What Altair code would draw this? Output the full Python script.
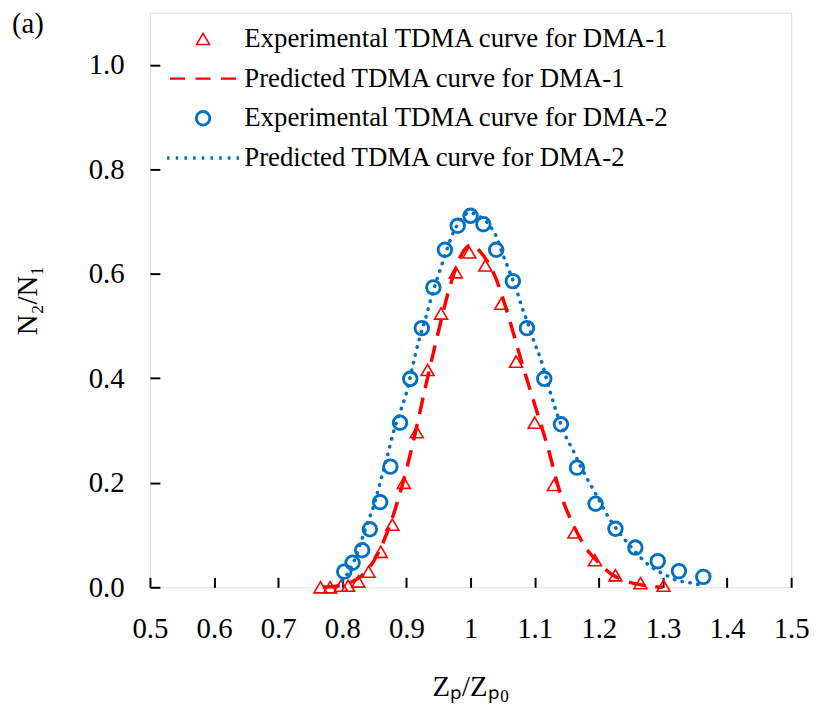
import altair as alt
import pandas as pd

S1E = "Experimental TDMA curve for DMA-1"
S1P = "Predicted TDMA curve for DMA-1"
S2E = "Experimental TDMA curve for DMA-2"
S2P = "Predicted TDMA curve for DMA-2"
series_order = [S1E, S1P, S2E, S2P]

exp1_x = [0.766, 0.781, 0.798, 0.809, 0.825, 0.841, 0.860, 0.878, 0.896, 0.916, 0.933, 0.954,
          0.977, 0.998, 1.023, 1.048, 1.071, 1.100, 1.130, 1.162, 1.194, 1.226, 1.265, 1.301]
exp1_y = [0.0, 0.0, 0.003, 0.003, 0.011, 0.030, 0.068, 0.120, 0.200, 0.297, 0.416, 0.524,
          0.603, 0.641, 0.616, 0.543, 0.432, 0.315, 0.196, 0.105, 0.052, 0.023, 0.008, 0.003]

pred1_x = [0.77, 0.79, 0.81, 0.83, 0.85, 0.87, 0.89, 0.91, 0.93, 0.95, 0.97, 0.99, 1.00,
           1.02, 1.04, 1.06, 1.08, 1.10, 1.12, 1.14, 1.16, 1.18, 1.20, 1.22, 1.24, 1.26, 1.28, 1.30]
pred1_y = [0.0, 0.002, 0.008, 0.022, 0.052, 0.105, 0.18, 0.275, 0.385, 0.49, 0.585, 0.645, 0.655,
           0.635, 0.59, 0.515, 0.43, 0.35, 0.27, 0.18, 0.12, 0.075, 0.047, 0.025, 0.013, 0.006, 0.002, 0.0]

exp2_x = [0.803, 0.816, 0.831, 0.843, 0.859, 0.875, 0.890, 0.906, 0.924, 0.942, 0.960, 0.980, 1.000,
          1.020, 1.040, 1.066, 1.088, 1.115, 1.141, 1.166, 1.195, 1.226, 1.257, 1.292, 1.325, 1.363]
exp2_y = [0.030, 0.047, 0.071, 0.111, 0.163, 0.231, 0.315, 0.399, 0.496, 0.574, 0.646, 0.692, 0.711,
          0.695, 0.646, 0.586, 0.496, 0.399, 0.312, 0.229, 0.160, 0.112, 0.076, 0.050, 0.031, 0.020]

pred2_x = [0.80, 0.81, 0.82, 0.83, 0.84, 0.85, 0.86, 0.87, 0.88, 0.89, 0.90, 0.91, 0.92, 0.93, 0.94,
           0.95, 0.96, 0.97, 0.98, 0.99, 1.00, 1.01, 1.02, 1.03, 1.04, 1.05, 1.06, 1.07, 1.08, 1.09,
           1.10, 1.11, 1.12, 1.13, 1.14, 1.15, 1.16, 1.17, 1.18, 1.19, 1.20, 1.21, 1.22, 1.23, 1.24,
           1.25, 1.26, 1.27, 1.28, 1.29, 1.30, 1.31, 1.32, 1.33, 1.34, 1.35, 1.36]
pred2_y = [0.012, 0.03, 0.055, 0.09, 0.125, 0.16, 0.205, 0.25, 0.298, 0.335, 0.372, 0.425, 0.475, 0.515, 0.56,
           0.598, 0.635, 0.67, 0.695, 0.712, 0.717, 0.712, 0.705, 0.692, 0.672, 0.638, 0.607, 0.575, 0.537, 0.503,
           0.467, 0.435, 0.392, 0.35, 0.315, 0.285, 0.262, 0.235, 0.212, 0.19, 0.168, 0.145, 0.125, 0.108, 0.092,
           0.078, 0.064, 0.051, 0.041, 0.032, 0.026, 0.02, 0.014, 0.011, 0.009, 0.007, 0.004]

x_ticks = [0.5, 0.6, 0.7, 0.8, 0.9, 1.0, 1.1, 1.2, 1.3, 1.4, 1.5]
y_ticks = [0.0, 0.2, 0.4, 0.6, 0.8, 1.0]
panel_label = ["(a)"]

RED = "#FF0000"
BLUE = "#0070C0"
FONT = "Liberation Serif"

exp_df = pd.DataFrame({
    "x": exp1_x + exp2_x,
    "y": exp1_y + exp2_y,
    "series": [S1E] * len(exp1_x) + [S2E] * len(exp2_x),
})
pred1_df = pd.DataFrame({"x": pred1_x, "y": pred1_y})
pred2_df = pd.DataFrame({"x": pred2_x, "y": pred2_y})
label_df = pd.DataFrame({"label": panel_label})

# legend symbol paths (custom SVG paths for dashed / dotted line samples)
dash_path = "M-5,0L-2.71,0M-1.14,0L1.14,0M2.71,0L5,0"
dot_centers = [-5 + 1.25 * i for i in range(9)]
dot_path = "".join(f"M{c - 0.18:.2f},0L{c + 0.18:.2f},0" for c in dot_centers)

x_enc = alt.X(
    "x:Q",
    scale=alt.Scale(domain=[0.5, 1.5], nice=False, zero=False),
    axis=alt.Axis(
        values=x_ticks, format="~g", offset=-10, tickSize=10, tickWidth=2, tickColor="black",
        domain=False, grid=False, labelFont=FONT, labelFontSize=29, labelColor="black",
        labelPadding=28, labelFlush=False, labelOverlap=False,
        title="Zₚ/Zₚ₀", titleFont=FONT, titleFontSize=29, titleFontWeight="normal",
        titleColor="black", titlePadding=29,
    ),
)
y_enc = alt.Y(
    "y:Q",
    scale=alt.Scale(domain=[0, 1.1], nice=False, zero=True),
    axis=alt.Axis(
        values=y_ticks, format=".1f", offset=-10, tickSize=10, tickWidth=2, tickColor="black",
        domain=False, grid=False, labelFont=FONT, labelFontSize=29, labelColor="black",
        labelPadding=26, labelFlush=False, labelOverlap=False,
        title="N₂/N₁", titleFont=FONT, titleFontSize=29, titleFontWeight="normal",
        titleColor="black", titlePadding=46,
    ),
)

legend = alt.Legend(
    title=None, orient="none", legendX=40, legendY=13, labelFont=FONT, labelFontSize=27,
    labelColor="black", labelOffset=28, labelLimit=0, rowPadding=12, padding=0,
)

points = alt.Chart(exp_df).mark_point(filled=False, opacity=1).encode(
    x=x_enc,
    y=y_enc,
    color=alt.Color("series:N", scale=alt.Scale(domain=series_order, range=[RED, RED, BLUE, BLUE]), legend=legend),
    shape=alt.Shape("series:N", scale=alt.Scale(domain=series_order,
                                                 range=["triangle-up", dash_path, "circle", dot_path]), legend=legend),
    size=alt.Size("series:N", scale=alt.Scale(domain=series_order, range=[169, 196, 169, 196]), legend=legend),
    strokeWidth=alt.StrokeWidth("series:N", scale=alt.Scale(domain=series_order, range=[1.6, 3.5, 1.6, 3.0]),
                                legend=legend),
)

line1 = alt.Chart(pred1_df).mark_line(
    color=RED, strokeDash=[17, 10], strokeWidth=3.5, interpolate="monotone"
).encode(x=x_enc, y=y_enc)

line2 = alt.Chart(pred2_df).mark_line(
    color=BLUE, strokeDash=[0.5, 7.5], strokeCap="round", strokeWidth=3.5, interpolate="monotone"
).encode(x=x_enc, y=y_enc)

panel = alt.Chart(label_df).mark_text(
    align="left", baseline="alphabetic", font=FONT, fontSize=29, color="black"
).encode(x=alt.value(-139), y=alt.value(21), text="label:N")

chart = alt.layer(points, line1, line2, panel).properties(
    width=646,
    height=579,
    autosize=alt.AutoSizeParams(type="none"),
    padding={"left": 143, "top": 2, "right": 20, "bottom": 120},
).configure_view(stroke="black", strokeWidth=2).configure(background="white")

chart.save("out.html", embed_options={"renderer": "svg", "actions": False})
